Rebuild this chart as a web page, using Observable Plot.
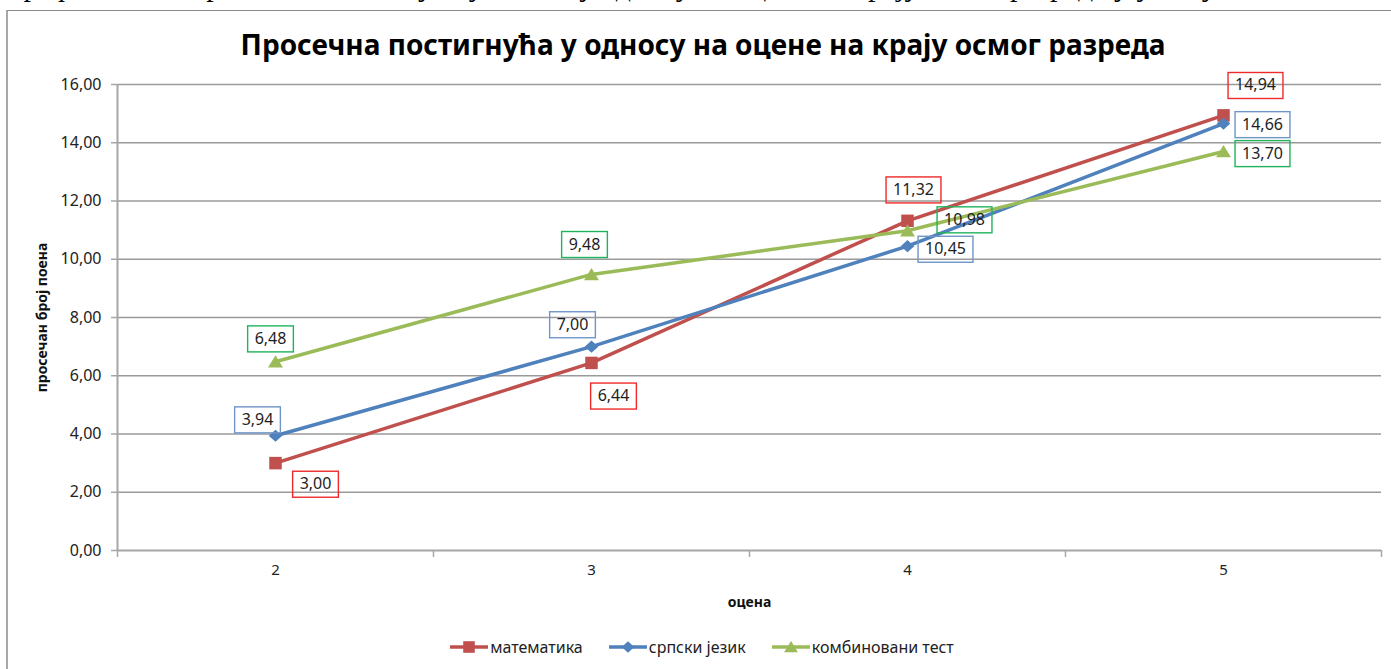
<!DOCTYPE html>
<html>
<head>
<meta charset="utf-8">
<script src="https://cdn.jsdelivr.net/npm/d3@7"></script>
<script src="https://cdn.jsdelivr.net/npm/@observablehq/plot@0.6"></script>
<style>
  html, body { margin: 0; padding: 0; background: #fff; }
  body { width: 1391px; height: 669px; overflow: hidden; position: relative; font-family: "Noto Sans", sans-serif; }
  #doc { position: absolute; left: 0; top: 0; width: 1391px; height: 9px; overflow: hidden; }
  #doc span { position: absolute; left: 8px; top: -31px; font: 30px "Liberation Serif", serif; white-space: nowrap; color: #000; }
  #frame { position: absolute; left: 6px; top: 10px; width: 1400px; height: 700px; border-left: 2px solid #a8a8a8; border-top: 1px solid #8a8a8a; }
  #title { position: absolute; top: 24px; left: 0; width: 1406px; text-align: center; font-weight: bold; font-size: 28px; line-height: 40px; color: #000; white-space: nowrap; }
  #chart { position: absolute; left: 0; top: 60px; }
  #legend { position: absolute; left: 0; width: 1404px; top: 636px; display: flex; justify-content: center; gap: 26px; font-size: 16px; color: #222; }
  #legend .item { display: flex; align-items: center; }
  #legend svg { margin-right: 2px; }
</style>
</head>
<body>
<div id="doc"><span>Графикон 12: Просечна постигнућа ученика у односу на оцене на крају осмог разреда у учењу</span></div>
<div id="frame"></div>
<div id="title"></div>
<div id="chart"></div>
<div id="legend"></div>
<script>
// ---- data ----
const title = "Просечна постигнућа у односу на оцене на крају осмог разреда";
const xLabel = "оцена";
const yLabel = "просечан број поена";
const categories = [2, 3, 4, 5];
const seriesNames = ["математика", "српски језик", "комбиновани тест"];
const matematika = [3.00, 6.44, 11.32, 14.94];
const srpskiJezik = [3.94, 7.00, 10.45, 14.66];
const kombinovaniTest = [6.48, 9.48, 10.98, 13.70];
const yTicks = [0, 2, 4, 6, 8, 10, 12, 14, 16];

// ---- styles / layout ----
const lineColors = ["#C0504D", "#4F81BD", "#9BBB59"];
const boxColors = ["#f02a2a", "#6f95c9", "#21b35c"];
// label offsets (px) relative to each point, per series
const labelOffsets = [
  [[40, 21], [22, 33], [6, -31], [32, -30]],
  [[-18, -16], [-19, -22], [38, 3], [39, 1]],
  [[-5, -23], [-7, -30], [57, -11], [39, 2]]
];

const fmt = v => v.toFixed(2).replace(".", ",");
const seriesValues = [matematika, srpskiJezik, kombinovaniTest];
const rows = [];
seriesNames.forEach((s, si) => categories.forEach((c, ci) => rows.push({series: s, si, ci, grade: c, value: seriesValues[si][ci]})));
const boundaries = [categories[0] - 0.5, ...categories.map(c => c + 0.5)];

// custom symbols (Excel-like)
const rad = size => Math.sqrt(size / Math.PI);
const squareSym = {draw(ctx, size) { const r = rad(size) * 0.92; ctx.moveTo(-r, -r); ctx.lineTo(r, -r); ctx.lineTo(r, r); ctx.lineTo(-r, r); ctx.closePath(); }};
const diamondSym = {draw(ctx, size) { const r = rad(size) * 1.0; ctx.moveTo(0, -r * 0.9); ctx.lineTo(r, 0); ctx.lineTo(0, r * 0.9); ctx.lineTo(-r, 0); ctx.closePath(); }};
const triangleSym = {draw(ctx, size) { const r = rad(size); ctx.moveTo(0, -r * 0.95); ctx.lineTo(r * 1.1, r * 0.85); ctx.lineTo(-r * 1.1, r * 0.85); ctx.closePath(); }};
const symbols = [squareSym, diamondSym, triangleSym];

document.getElementById("title").textContent = title;

const labelMarks = rows.map(d => {
  const [dx, dy] = labelOffsets[d.si][d.ci];
  return Plot.text([d], {
    x: "grade", y: "value", text: r => fmt(r.value), dx, dy,
    fill: "#1e1e1e", fontSize: 16, textAnchor: "middle", lineAnchor: "middle"
  });
});

const plot = Plot.plot({
  width: 1391, height: 560,
  marginLeft: 117, marginRight: 10, marginTop: 24, marginBottom: 70,
  x: {domain: [boundaries[0], boundaries[boundaries.length - 1]]},
  y: {domain: [0, 16]},
  color: {domain: seriesNames, range: lineColors},
  symbol: {domain: seriesNames, range: symbols},
  style: {fontFamily: "Noto Sans, sans-serif", fontSize: "15px", color: "#222", background: "transparent", overflow: "visible"},
  marks: [
    Plot.ruleY(yTicks.filter(t => t > 0), {stroke: "#9a9a9a", strokeWidth: 1.3}),
    Plot.axisY(yTicks, {anchor: "left", tickSize: 6, tickPadding: 10, tickFormat: fmt, stroke: "#a6a6a6", strokeWidth: 1.5, fill: "#222", fontSize: 16, label: null}),
    Plot.axisX(categories, {anchor: "bottom", tickSize: 0, tickPadding: 14, tickFormat: d => String(d), fill: "#222", fontSize: 15, label: null}),
    Plot.axisX(boundaries, {anchor: "bottom", tickSize: 7, tickFormat: () => "", stroke: "#a6a6a6", strokeWidth: 1.5, label: null}),
    Plot.ruleX([boundaries[0]], {y1: 0, y2: 16, stroke: "#a6a6a6", strokeWidth: 2}),
    Plot.ruleY([0], {stroke: "#a6a6a6", strokeWidth: 2}),
    Plot.line(rows, {x: "grade", y: "value", z: "series", stroke: "series", strokeWidth: 3.5}),
    Plot.dot(rows, {x: "grade", y: "value", symbol: "series", fill: "series", stroke: "none", r: 6.8}),
    ...labelMarks,
    Plot.text([xLabel], {frameAnchor: "bottom", dy: 52, text: d => d, fontWeight: "bold", fontSize: 14, fill: "#111", lineAnchor: "middle"}),
    Plot.text([yLabel], {frameAnchor: "left", dx: -75, rotate: -90, text: d => d, fontWeight: "bold", fontSize: 14, fill: "#111", textAnchor: "middle", lineAnchor: "middle"})
  ]
});
document.getElementById("chart").appendChild(plot);

// boxes around data labels: the first rows.length text-mark groups are the labels
const textGroups = Array.from(plot.querySelectorAll('g[aria-label="text"]')).slice(0, rows.length);
textGroups.forEach((g, i) => {
  const si = rows[i].si;
  g.querySelectorAll("text").forEach(t => {
    const b = t.getBBox();
    const rect = document.createElementNS("http://www.w3.org/2000/svg", "rect");
    rect.setAttribute("x", b.x - 7);
    rect.setAttribute("y", b.y - 1);
    rect.setAttribute("width", b.width + 14);
    rect.setAttribute("height", b.height + 4);
    rect.setAttribute("fill", "none");
    rect.setAttribute("stroke", boxColors[si]);
    rect.setAttribute("stroke-width", 1.4);
    const tr = t.getAttribute("transform");
    if (tr) rect.setAttribute("transform", tr);
    t.parentNode.insertBefore(rect, t);
  });
});

// legend
const legend = document.getElementById("legend");
seriesNames.forEach((s, i) => {
  const item = document.createElement("div");
  item.className = "item";
  const p = d3.path();
  symbols[i].draw(p, Math.PI * 6.3 * 6.3);
  item.innerHTML = `<svg width="38" height="16" viewBox="-19 -8 38 16"><line x1="-19" x2="19" y1="0" y2="0" stroke="${lineColors[i]}" stroke-width="3.5"/><path d="${p.toString()}" fill="${lineColors[i]}"/></svg><span>${s}</span>`;
  legend.appendChild(item);
});
</script>
</body>
</html>
